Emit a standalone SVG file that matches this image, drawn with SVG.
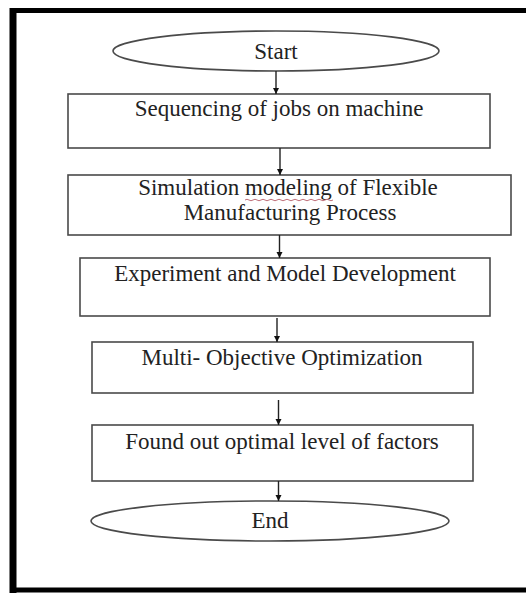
<svg xmlns="http://www.w3.org/2000/svg" width="526" height="593" viewBox="0 0 526 593">
<style>
.box{fill:#fff;stroke:#4a4a4a;stroke-width:1.6}
.t{font-family:"Liberation Serif","Times New Roman",serif;font-size:23px;fill:#222;text-anchor:middle}
.c{stroke:#222;stroke-width:1.4;fill:none}
</style>
<defs>
<marker id="ah" viewBox="0 0 10 10" refX="10" refY="5" markerWidth="6" markerHeight="7" markerUnits="userSpaceOnUse" orient="auto">
<path d="M0,0 L10,5 L0,10 Z" fill="#111"/>
</marker>
</defs>
<rect x="0" y="0" width="526" height="593" fill="#fff"/>
<g id="frame">
<line x1="13" y1="8" x2="13" y2="593" stroke="#000" stroke-width="7"/>
<line x1="10" y1="10.5" x2="526" y2="10.5" stroke="#000" stroke-width="5"/>
<line x1="10" y1="590" x2="526" y2="590" stroke="#000" stroke-width="5"/>
</g>
<g id="start">
<ellipse class="box" cx="276" cy="51" rx="163" ry="20"/>
<text class="t" x="276" y="59">Start</text>
</g>
<g id="seq">
<rect class="box" x="68" y="94" width="422" height="54"/>
<text class="t" x="279" y="116">Sequencing of jobs on machine</text>
</g>
<g id="sim">
<rect class="box" x="68" y="175" width="443" height="60"/>
<text class="t" x="288" y="195">Simulation modeling of Flexible</text>
<text class="t" x="290" y="220">Manufacturing Process</text>
<path d="M245,200 q2,-1.5 4,0 t4,0 t4,0 t4,0 t4,0 t4,0 t4,0 t4,0 t4,0 t4,0 t4,0 t4,0 t4,0 t4,0 t4,0 t4,0 t4,0 t4,0 t4,0 t4,0 t4,0 t4,0" fill="none" stroke="#c0707a" stroke-width="1"/>
</g>
<g id="exp">
<rect class="box" x="80" y="258" width="410" height="58"/>
<text class="t" x="285" y="281">Experiment and Model Development</text>
</g>
<g id="moo">
<rect class="box" x="92" y="342" width="381" height="51"/>
<text class="t" x="282" y="365">Multi- Objective Optimization</text>
</g>
<g id="found">
<rect class="box" x="92" y="425" width="381" height="56"/>
<text class="t" x="282" y="449">Found out optimal level of factors</text>
</g>
<g id="end">
<ellipse class="box" cx="270" cy="521" rx="179" ry="20"/>
<text class="t" x="270" y="528">End</text>
</g>
<g id="connectors">
<line class="c" x1="276" y1="71" x2="276" y2="94" marker-end="url(#ah)"/>
<line class="c" x1="280" y1="148" x2="280" y2="175" marker-end="url(#ah)"/>
<line class="c" x1="279.5" y1="235" x2="279.5" y2="258" marker-end="url(#ah)"/>
<line class="c" x1="277" y1="318" x2="277" y2="342" marker-end="url(#ah)"/>
<line class="c" x1="278.5" y1="400" x2="278.5" y2="425" marker-end="url(#ah)"/>
<line class="c" x1="278.5" y1="481" x2="278.5" y2="501" marker-end="url(#ah)"/>
</g>
</svg>
